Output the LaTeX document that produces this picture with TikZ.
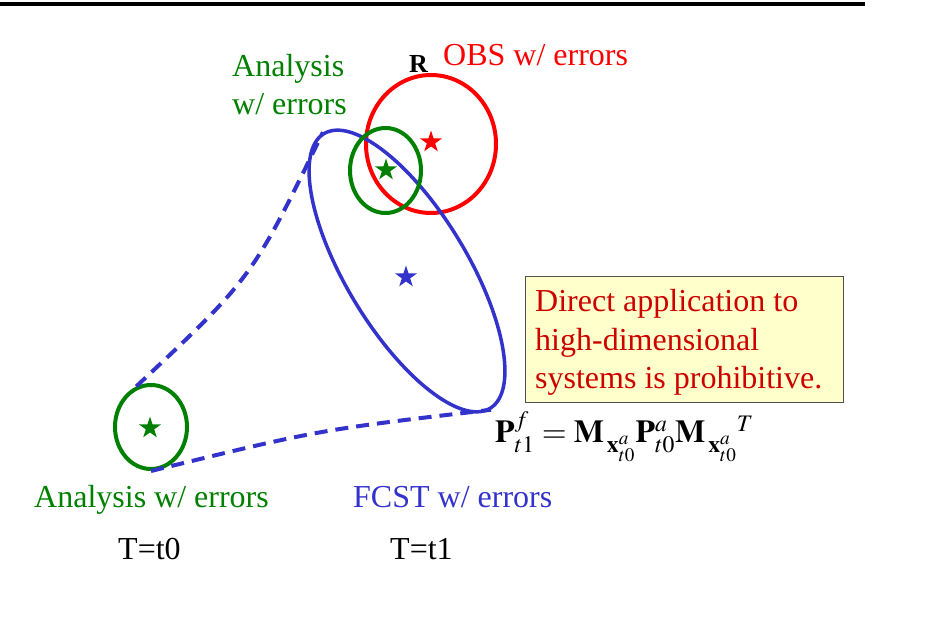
\documentclass[tikz,border=0pt]{standalone}
\usepackage{mathptmx}
\usepackage[no-math]{fontspec}
\setmainfont{Liberation Serif}
\usetikzlibrary{shapes.geometric}

\definecolor{fcstblue}{RGB}{51,51,204}
\definecolor{anagreen}{RGB}{0,128,0}
\definecolor{notered}{RGB}{204,0,0}
\definecolor{noteyellow}{RGB}{255,255,204}
\definecolor{noteframe}{RGB}{80,80,80}

% tangent-linear subscript, set a little lower than usual
\newcommand{\lowsub}[1]{\kern3pt\lower5pt\hbox{$\scriptstyle #1$}}

\begin{document}
\begin{tikzpicture}[x=1pt,y=1pt,
  lbl/.style={inner sep=0pt, anchor=base west, font=\fontsize{32}{38}\selectfont},
  errell/.style={ellipse, draw, line width=4pt, inner sep=0pt},
  starmark/.style={star, star points=5, star point ratio=2.6, inner sep=0pt,
                   minimum size=23pt, draw=none},
  spread/.style={draw=fcstblue, line width=4pt, dash pattern=on 13pt off 8pt},
]
\useasboundingbox (0,0) rectangle (940,635);

% title rule
\draw[line width=4pt] (0,631) -- (865,631);

% error ellipses
\node[errell, draw=red, minimum width=130pt, minimum height=138pt] (obs) at (431,491) {};
\node[errell, draw=fcstblue, line width=3.5pt, minimum width=321pt, minimum height=121pt,
      rotate=-58.8] (fcst) at (407,364) {};
\node[errell, draw=anagreen, minimum width=71pt, minimum height=85pt] (an1) at (385.5,464.5) {};
\node[errell, draw=anagreen, minimum width=72pt, minimum height=84pt] (an0) at (151,208) {};

% state estimates
\node[starmark, fill=red] (obsx) at (431,493) {};
\node[starmark, fill=anagreen] (an1x) at (386,465) {};
\node[starmark, fill=fcstblue] (fcstx) at (406,358) {};
\node[starmark, fill=anagreen] (an0x) at (150,207) {};

% error growth from t0 to t1
\draw[spread] (an0.110) .. controls (252,357) .. (fcst.west);
\draw[spread] (an0.south) .. controls (318,205) .. (fcst.east);

% labels
\node[lbl, text=anagreen] (anatop1) at (232,558) {Analysis};
\node[lbl, text=anagreen] (anatop2) at (232,520) {w/ errors};
\node[lbl, font=\fontsize{26}{30}\selectfont\bfseries] (rlab) at (409,562) {R};
\node[lbl, text=red] (obslab) at (443,569) {OBS w/ errors};

\node[lbl, text=anagreen] (analab) at (34,128) {Analysis w/ errors};
\node[lbl, text=fcstblue] (fcstlab) at (353,128) {FCST w/ errors};
\node[lbl] (time0) at (118,76) {T=t0};
\node[lbl] (time1) at (390,76) {T=t1};

% note box
\node[draw=noteframe, line width=1.2pt, fill=noteyellow, anchor=north west,
      minimum width=318pt, minimum height=126pt, inner sep=0pt] (note) at (525,359) {};
\node[lbl, text=notered] (note1) at (535,323) {Direct application to};
\node[lbl, text=notered] (note2) at (535,284) {high-dimensional};
\node[lbl, text=notered] (note3) at (535,246) {systems is prohibitive.};

% covariance propagation
\node[lbl] (cov) at (495,192)
  {$\mathbf{P}^{f}_{t1} = \mathbf{M}_{\lowsub{\mathbf{x}^{a}_{t0}}}\mathbf{P}^{a}_{t0}\mathbf{M}_{\lowsub{\mathbf{x}^{a}_{t0}}}{}^{T}$};
\end{tikzpicture}
\end{document}
